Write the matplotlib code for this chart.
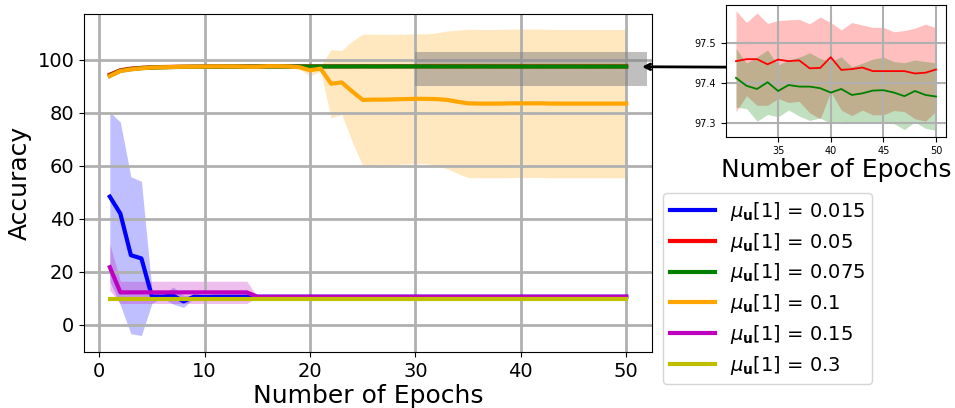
import numpy as np
import matplotlib
matplotlib.use("Agg")
import matplotlib.pyplot as plt
from matplotlib.patches import Rectangle

epochs = np.arange(1, 51)

labels = [r'$\mu_{\mathbf{u}}[1]$ = 0.015', r'$\mu_{\mathbf{u}}[1]$ = 0.05',
          r'$\mu_{\mathbf{u}}[1]$ = 0.075', r'$\mu_{\mathbf{u}}[1]$ = 0.1',
          r'$\mu_{\mathbf{u}}[1]$ = 0.15', r'$\mu_{\mathbf{u}}[1]$ = 0.3']
colors = ['b', 'r', 'g', 'orange', 'm', 'y']

# mean / std accuracy per epoch for each mu value
blue_mean = [48.3, 41.9, 26.2, 25.0, 10.6, 10.6, 11.0, 8.8, 10.6, 10.4] + [10.55] * 40
blue_std = [32.0, 34.5, 29.6, 29.1, 2.5, 0.6, 3.2, 2.3, 0.5, 0.3] + [0.1] * 40

red_mean = [94.3, 96.0, 96.6, 96.9, 97.1, 97.2, 97.25, 97.3, 97.33, 97.36,
            97.38, 97.4, 97.41, 97.42, 97.43, 97.43, 97.44, 97.44, 97.45, 97.45,
            97.45, 97.45, 97.46, 97.45, 97.46, 97.46, 97.45, 97.46, 97.46, 97.45,
            97.455, 97.46, 97.46, 97.447, 97.459, 97.455, 97.457, 97.437, 97.438, 97.465,
            97.433, 97.435, 97.439, 97.43, 97.43, 97.43, 97.43, 97.424, 97.426, 97.434]
red_std = [0.4, 0.2, 0.15, 0.12, 0.12, 0.11, 0.11, 0.1, 0.1, 0.1,
           0.1, 0.1, 0.1, 0.1, 0.1, 0.1, 0.1, 0.1, 0.1, 0.1,
           0.1, 0.1, 0.1, 0.1, 0.1, 0.1, 0.1, 0.1, 0.1, 0.1,
           0.127, 0.092, 0.116, 0.103, 0.098, 0.104, 0.103, 0.112, 0.128, 0.087,
           0.101, 0.117, 0.107, 0.11, 0.11, 0.099, 0.102, 0.114, 0.122, 0.105]

green_mean = [93.9, 95.8, 96.4, 96.8, 97.0, 97.1, 97.2, 97.25, 97.3, 97.3,
              97.32, 97.35, 97.35, 97.36, 97.37, 97.38, 97.39, 97.4, 97.4, 97.4,
              97.41, 97.4, 97.41, 97.41, 97.42, 97.41, 97.41, 97.42, 97.41, 97.42,
              97.413, 97.393, 97.385, 97.402, 97.38, 97.395, 97.391, 97.391, 97.387, 97.376,
              97.385, 97.37, 97.374, 97.381, 97.382, 97.376, 97.367, 97.38, 97.37, 97.366]
green_std = [0.4, 0.2, 0.15, 0.12, 0.1, 0.1, 0.1, 0.09, 0.09, 0.08,
             0.08, 0.08, 0.08, 0.08, 0.08, 0.08, 0.08, 0.08, 0.08, 0.08,
             0.08, 0.08, 0.08, 0.08, 0.08, 0.08, 0.08, 0.08, 0.08, 0.08,
             0.074, 0.057, 0.081, 0.081, 0.065, 0.063, 0.074, 0.085, 0.075, 0.078,
             0.081, 0.071, 0.076, 0.079, 0.083, 0.078, 0.084, 0.078, 0.084, 0.085]

orange_mean = [93.8, 95.7, 96.3, 96.7, 97.0, 97.1, 97.2, 97.3, 97.3, 97.35,
               97.4, 97.4, 97.4, 97.3, 97.3, 97.5, 97.5, 97.4, 97.1, 96.0,
               96.6, 90.9, 91.4, 88.0, 84.8, 84.9, 84.9, 85.0, 85.1, 85.2,
               85.2, 85.1, 84.8, 84.1, 83.5, 83.4, 83.4, 83.4, 83.5, 83.5,
               83.5, 83.5, 83.4, 83.4, 83.4, 83.4, 83.4, 83.4, 83.4, 83.4]
orange_std = [0.4, 0.3, 0.3, 0.3, 0.3, 0.3, 0.3, 0.3, 0.3, 0.3,
              0.3, 0.3, 0.3, 0.3, 0.3, 0.3, 0.3, 0.3, 0.6, 2.2,
              1.0, 12.9, 12.0, 19.0, 24.8, 24.7, 24.6, 24.6, 24.5, 24.5,
              24.5, 25.0, 26.0, 27.0, 28.0, 28.0, 28.0, 28.0, 28.0, 28.0,
              28.0, 28.0, 28.0, 28.0, 28.0, 28.0, 28.0, 28.0, 28.0, 28.0]

magenta_mean = [21.7] + [12.2] * 13 + [10.55] * 36
magenta_std = [8.8] + [4.2] * 13 + [0.0] * 36

yellow_mean = [9.8] * 50
yellow_std = [0.0] * 50

means = [blue_mean, red_mean, green_mean, orange_mean, magenta_mean, yellow_mean]
stds = [blue_std, red_std, green_std, orange_std, magenta_std, yellow_std]

fig = plt.figure(figsize=(9.55, 4.08), dpi=100)
ax = fig.add_axes([84 / 955, 1 - 352 / 408, 568 / 955, 338 / 408])

for m, s, c, lab in zip(means, stds, colors, labels):
    m = np.array(m)
    s = np.array(s)
    ax.fill_between(epochs, m - s, m + s, color=c, alpha=0.25, lw=0)
    ax.plot(epochs, m, color=c, lw=3, label=lab)

ax.add_patch(Rectangle((30, 90), 22, 13, facecolor='gray', alpha=0.5,
                       edgecolor='none', zorder=1.6))

ax.set_xlim(-1.45, 52.45)
ax.set_ylim(-10.3, 117.2)
ax.grid(True, lw=2, color='#b0b0b0')
ax.tick_params(labelsize=14)
ax.set_xlabel("Number of Epochs", fontsize=18, labelpad=2)
ax.set_ylabel("Accuracy", fontsize=18)

ax.legend(loc='upper left', bbox_to_anchor=(663 / 955, 1 - 193 / 408),
          bbox_transform=fig.transFigure, borderaxespad=0, fontsize=14,
          handlelength=2.3, labelspacing=0.4, borderpad=0.35)

# zoomed inset for epochs 31-50
ins = fig.add_axes([726 / 955, 1 - 136.7 / 408, 220 / 955, 132 / 408])
for idx in (1, 2):
    m = np.array(means[idx])[30:]
    s = np.array(stds[idx])[30:]
    ins.fill_between(epochs[30:], m - s, m + s, color=colors[idx], alpha=0.25, lw=0)
    ins.plot(epochs[30:], m, color=colors[idx], lw=1.3)
ins.set_xlim(30.05, 50.95)
ins.set_ylim(97.265, 97.597)
ins.set_xticks([35, 40, 45, 50])
ins.set_yticks([97.3, 97.4, 97.5])
ins.grid(True, lw=1.5, color='#b0b0b0')
ins.tick_params(labelsize=7)
ins.set_xlabel("Number of Epochs", fontsize=18, labelpad=1)

ax.annotate('', xy=(51.5, 97.3), xycoords='data',
            xytext=(30.05, 97.44), textcoords=ins.transData,
            arrowprops=dict(arrowstyle='->', lw=2, color='k',
                            shrinkA=0, shrinkB=0),
            annotation_clip=False)

fig.savefig("out.png", dpi=100)
